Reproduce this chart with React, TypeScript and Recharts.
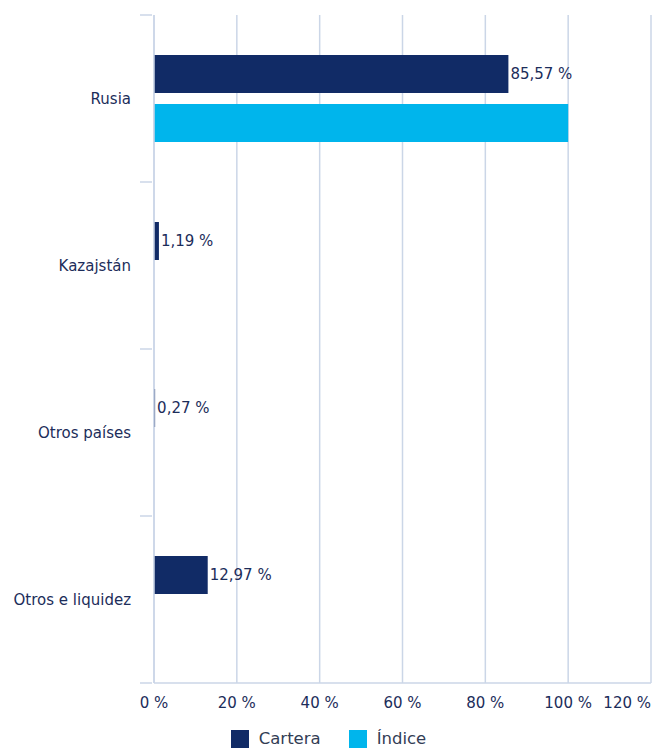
import React from 'react';
import { BarChart, Bar, XAxis, YAxis, CartesianGrid, LabelList } from 'recharts';

const categories = ['Rusia', 'Kazajstán', 'Otros países', 'Otros e liquidez'];
const cartera = [85.57, 1.19, 0.27, 12.97];
const indice = [100, 0, 0, 0];
const xTicks = [0, 20, 40, 60, 80, 100, 120];
const seriesNames = ['Cartera', 'Índice'];

const data = categories.map((c, i) => ({ name: c, cartera: cartera[i], indice: indice[i] }));

const NAVY = '#112b66';
const CYAN = '#00b5ec';
const TEXT = '#1c2d5a';
const GRID = '#cbd6e7';
const FONT = '"DejaVu Sans", Verdana, sans-serif';
const FS = 15;
const CHART_W = 657;

const fmt = (v: number) => v.toFixed(2).replace('.', ',') + ' %';

const YTick = (props: any) => {
  const { x, y, payload, index, visibleTicksCount } = props;
  const half = payload && payload.offset ? payload.offset : 83.5;
  return (
    <g>
      <line x1={x - 12} x2={x} y1={y - half} y2={y - half} stroke={GRID} strokeWidth={1.5} />
      {index === (visibleTicksCount ?? 4) - 1 && (
        <line x1={x - 12} x2={x} y1={y + half} y2={y + half} stroke={GRID} strokeWidth={1.5} />
      )}
      <text x={x - 21} y={y} dy={5} textAnchor="end" fill={TEXT} fontSize={FS} fontFamily={FONT}>
        {payload.value}
      </text>
    </g>
  );
};

const XTick = (props: any) => {
  const { x, y, payload } = props;
  const label = `${payload.value} %`;
  const w = label.length * 9.4;
  const fits = x + w / 2 <= CHART_W - 2;
  return (
    <text
      x={fits ? x : CHART_W - 6}
      y={y}
      dy={17}
      textAnchor={fits ? 'middle' : 'end'}
      fill={TEXT}
      fontSize={FS}
      fontFamily={FONT}
    >
      {label}
    </text>
  );
};

export default function App() {
  return (
    <div style={{ position: 'absolute', left: 0, top: 0, width: 657, height: 751, background: '#fff' }}>
      <BarChart
        width={CHART_W}
        height={751}
        data={data}
        layout="vertical"
        margin={{ top: 15, right: 6, bottom: 38, left: 0 }}
        barSize={38}
        barGap={11}
      >
        <CartesianGrid horizontal={false} stroke={GRID} strokeWidth={1.5} />
        <XAxis
          type="number"
          domain={[0, 120]}
          ticks={xTicks}
          height={30}
          tickSize={0}
          tickMargin={8}
          axisLine={{ stroke: GRID, strokeWidth: 1.5 }}
          tick={<XTick />}
          interval={0}
        />
        <YAxis
          type="category"
          dataKey="name"
          width={154}
          tickLine={false}
          tickSize={0}
          axisLine={{ stroke: GRID, strokeWidth: 1.5 }}
          tick={<YTick />}
          interval={0}
        />
        <Bar dataKey="cartera" name={seriesNames[0]} fill={NAVY} isAnimationActive={false}>
          <LabelList
            dataKey="cartera"
            position="right"
            offset={2}
            formatter={(v: any) => fmt(Number(v))}
            fill={TEXT}
            fontSize={FS}
            fontFamily={FONT}
          />
        </Bar>
        <Bar dataKey="indice" name={seriesNames[1]} fill={CYAN} isAnimationActive={false} />
      </BarChart>
      <div
        style={{
          position: 'absolute',
          top: 729,
          left: 0,
          width: 657,
          display: 'flex',
          justifyContent: 'center',
          alignItems: 'center',
          fontFamily: FONT,
          fontSize: 16.5,
          color: TEXT,
        }}
      >
        {seriesNames.map((n, i) => (
          <div key={n} style={{ display: 'flex', alignItems: 'center', marginRight: i === 0 ? 28 : 0 }}>
            <span style={{ width: 18, height: 18, background: i === 0 ? NAVY : CYAN, display: 'inline-block', marginRight: 10 }} />
            <span style={{ color: '#333d55', lineHeight: '20px' }}>{n}</span>
          </div>
        ))}
      </div>
    </div>
  );
}
